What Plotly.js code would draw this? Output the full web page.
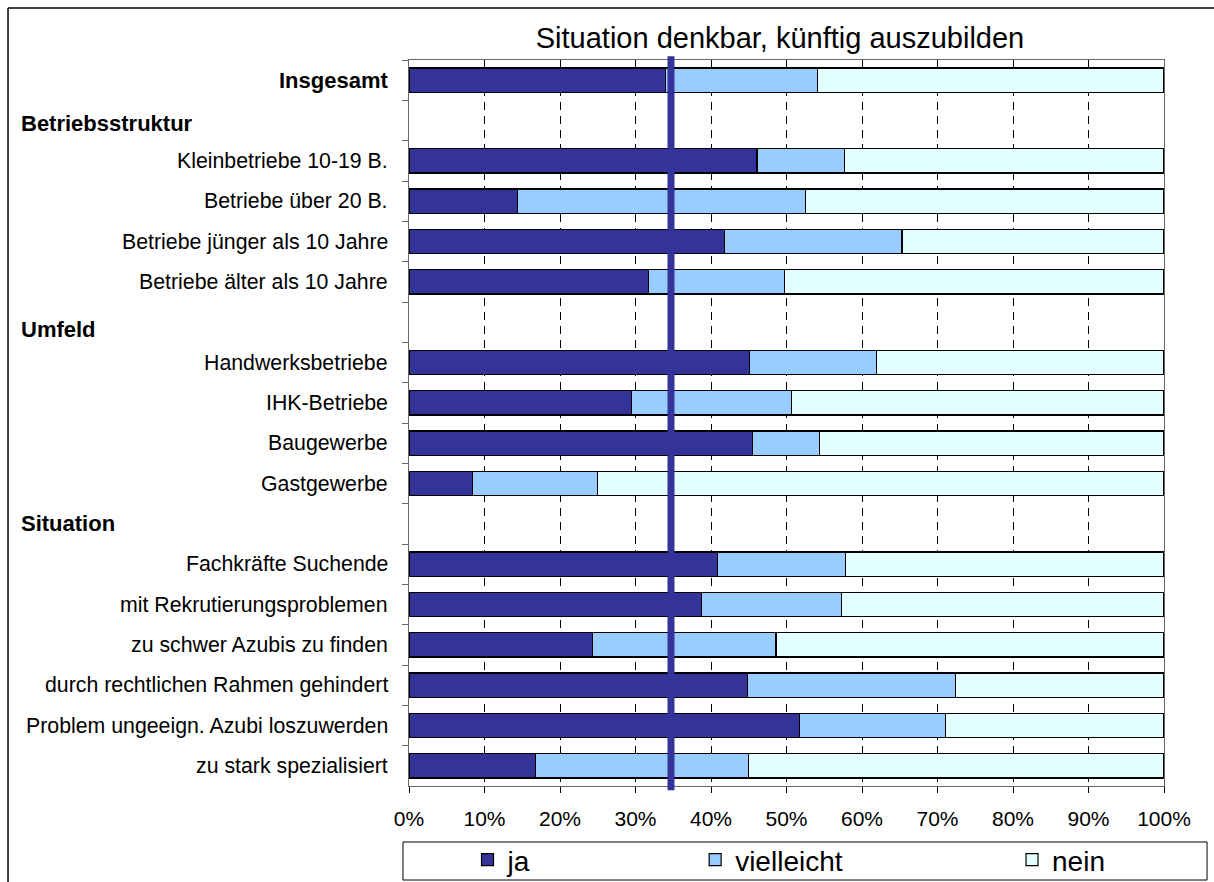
<!DOCTYPE html>
<html>
<head>
<meta charset="utf-8">
<script src="https://cdn.plot.ly/plotly-3.0.1.min.js"></script>
<style>
  html, body { margin: 0; padding: 0; background: #fff; }
  #chart { width: 1214px; height: 882px; }
</style>
</head>
<body>
<div id="chart"></div>
<script>
// ---- data (percent) ----
const categories = [
  "Insgesamt",
  "Betriebsstruktur",
  "Kleinbetriebe 10-19 B.",
  "Betriebe über 20 B.",
  "Betriebe jünger als 10 Jahre",
  "Betriebe älter als 10 Jahre",
  "Umfeld",
  "Handwerksbetriebe",
  "IHK-Betriebe",
  "Baugewerbe",
  "Gastgewerbe",
  "Situation",
  "Fachkräfte Suchende",
  "mit Rekrutierungsproblemen",
  "zu schwer Azubis zu finden",
  "durch rechtlichen Rahmen gehindert",
  "Problem ungeeign. Azubi loszuwerden",
  "zu stark spezialisiert"
];
const headerRows = ["Betriebsstruktur", "Umfeld", "Situation"];
const boldRows = ["Insgesamt"];

const ja =         [34.0, null, 46.1, 14.4, 41.8, 31.7, null, 45.1, 29.5, 45.5,  8.4, null, 40.9, 38.7, 24.3, 44.8, 51.7, 16.8];
const vielleicht = [20.1, null, 11.6, 38.1, 23.5, 18.0, null, 16.8, 21.2,  8.9, 16.6, null, 16.9, 18.6, 24.3, 27.6, 19.4, 28.2];
const nein =       [45.9, null, 42.3, 47.5, 34.7, 50.3, null, 38.1, 49.3, 45.6, 75.0, null, 42.2, 42.7, 51.4, 27.6, 28.9, 55.0];

const seriesNames = ["ja", "vielleicht", "nein"];
const referenceLine = 34.7;   // vertical marker line (Insgesamt level)

const xTickVals = [0, 10, 20, 30, 40, 50, 60, 70, 80, 90, 100];
const xTickText = ["0%", "10%", "20%", "30%", "40%", "50%", "60%", "70%", "80%", "90%", "100%"];
const titleText = "Situation denkbar, künftig auszubilden";

// ---- styles ----
const FONT = "Liberation Sans, Arial, Helvetica, sans-serif";
const colors = ["#333399", "#99CCFF", "#E3FFFF"];
const legendIds = ["legend", "legend2", "legend3"];
const seriesValues = [ja, vielleicht, nein];

const traces = seriesNames.map((name, i) => ({
  type: "bar",
  orientation: "h",
  name: name,
  x: seriesValues[i],
  y: categories,
  marker: { color: colors[i], line: { color: "#000000", width: 1.2 } },
  legend: legendIds[i],
  showlegend: true,
  hoverinfo: "x+y+name"
}));

// category labels as annotations
const annotations = categories.map(cat => {
  const isHeader = headerRows.includes(cat);
  const isBold = isHeader || boldRows.includes(cat);
  return {
    xref: "paper", yref: "y",
    x: isHeader ? -0.516 : -0.025,
    y: cat,
    xanchor: isHeader ? "left" : "right",
    yanchor: "middle",
    yshift: cat === "Umfeld" ? -7 : (cat === "Betriebsstruktur" ? -3 : 0),
    text: isBold ? "<b>" + cat + "</b>" : cat,
    showarrow: false,
    font: { family: FONT, size: isBold ? 22 : 21.3, color: "#000" }
  };
});

const legendCommon = {
  orientation: "h",
  yref: "paper", y: -0.1019, yanchor: "middle",
  xanchor: "left",
  bgcolor: "rgba(0,0,0,0)",
  borderwidth: 0,
  font: { family: FONT, size: 28, color: "#000" },
  itemwidth: 30
};

const layout = {
  width: 1214,
  height: 882,
  margin: { l: 409, r: 50, t: 60, b: 96, pad: 0, autoexpand: false },
  paper_bgcolor: "#ffffff",
  plot_bgcolor: "#ffffff",
  font: { family: FONT, color: "#000" },
  showlegend: true,
  barmode: "stack",
  bargap: 0.4,
  title: {
    text: titleText,
    xref: "container", yref: "container",
    x: 780 / 1214, xanchor: "center",
    y: 1 - 38 / 882, yanchor: "middle",
    font: { family: FONT, size: 29, color: "#000" }
  },
  xaxis: {
    range: [0, 100],
    tickvals: xTickVals,
    ticktext: xTickText,
    tickfont: { family: FONT, size: 21, color: "#000" },
    ticks: "outside", ticklen: 6, tickcolor: "#000", tickwidth: 1,
    ticklabelstandoff: 8,
    automargin: false,
    showgrid: true, gridcolor: "#000000", gridwidth: 1, griddash: "8px,6px",
    zeroline: false,
    showline: true, linecolor: "#666666", linewidth: 1, mirror: true,
    fixedrange: true
  },
  yaxis: {
    type: "category",
    categoryorder: "array",
    categoryarray: categories,
    autorange: "reversed",
    showticklabels: false,
    automargin: false,
    ticks: "outside", tickson: "boundaries", ticklen: 6, tickcolor: "#666666",
    showgrid: false, zeroline: false,
    showline: true, linecolor: "#666666", linewidth: 1, mirror: true,
    fixedrange: true
  },
  legend:  Object.assign({}, legendCommon, { x: 0.0775 }),
  legend2: Object.assign({}, legendCommon, { x: 0.379 }),
  legend3: Object.assign({}, legendCommon, { x: 0.7987 }),
  annotations: annotations,
  shapes: [
    // reference line
    { type: "line", xref: "x", yref: "paper", x0: referenceLine, x1: referenceLine,
      y0: -0.006, y1: 1.005, line: { color: "#333399", width: 7 }, layer: "above" },
    // legend frame
    { type: "rect", xref: "paper", yref: "paper", x0: -0.00795, x1: 1.0570, y0: -0.1295, y1: -0.0771,
      line: { color: "#000", width: 1 }, fillcolor: "rgba(0,0,0,0)" },
    // outer chart frame (top and left edges visible)
    { type: "line", xref: "paper", yref: "paper", x0: -0.5311, x1: 1.0662, y0: 1.0716, y1: 1.0716,
      line: { color: "#000", width: 1.5 } },
    { type: "line", xref: "paper", yref: "paper", x0: -0.5311, x1: -0.5311, y0: 1.0716, y1: -0.1322,
      line: { color: "#000", width: 1.5 } }
  ]
};

Plotly.newPlot("chart", traces, layout, { displayModeBar: false, staticPlot: true });
</script>
</body>
</html>
